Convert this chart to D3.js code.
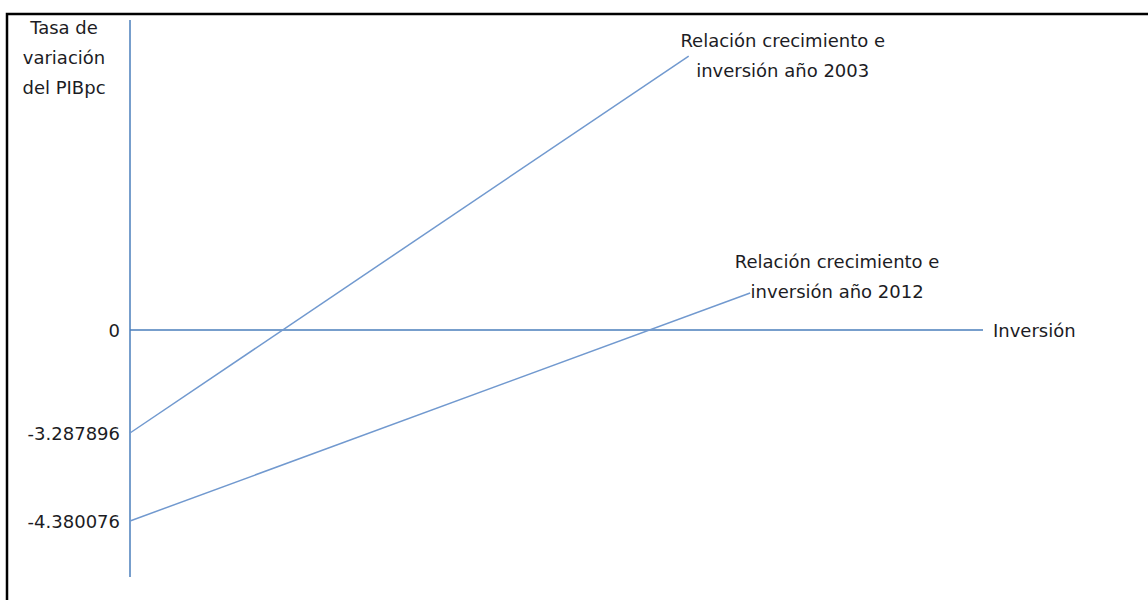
<!DOCTYPE html>
<html>
<head>
<meta charset="utf-8">
<script src="https://cdn.jsdelivr.net/npm/d3@7"></script>
<style>
  body { margin: 0; background: #fff; }
  svg text { font-family: "DejaVu Sans", Verdana, sans-serif; fill: #1c1c24; }
</style>
</head>
<body>
<svg id="chart" width="1148" height="600"></svg>
<script>
// values (x in arbitrary investment units)
const yTickValues = [0, -3.287896, -4.380076]
const yTickLabels = ["0", "-3.287896", "-4.380076"]
const yTitle = ["Tasa de", "variación", "del PIBpc"]
const xTitle = "Inversión"
const seriesNames = [
    ["Relación crecimiento e", "inversión año 2003"],
    ["Relación crecimiento e", "inversión año 2012"]
]
const seriesStart = [[0, -3.287896], [0, -4.380076]]
const seriesEnd = [[6.55, 8.75], [7.27, 1.18]]

const AXIS_X = 130
const AXIS_TOP = 20
const AXIS_BOTTOM = 577
const AXIS_RIGHT = 983
const AXIS_COLOR = "#4a7ebb"
const LINE_COLOR = "#7199cf"
const FONT_SIZE = "18px"

const svg = d3.select("#chart")

// frame
svg.append("rect")
    .attr("x", 7)
    .attr("y", 14)
    .attr("width", 1200)
    .attr("height", 700)
    .style("fill", "none")
    .style("stroke", "#000")
    .style("stroke-width", 2.5)

const xScale = d3.scaleLinear()
    .domain([0, 10])
    .range([AXIS_X, AXIS_RIGHT])

// the sketch is not to scale: use a piecewise scale through the labelled points
const yScale = d3.scaleLinear()
    .domain([-6.176, -4.380076, -3.287896, 0, 9.9])
    .range([AXIS_BOTTOM, 521, 433, 330, AXIS_TOP])

// y axis line
svg.append("line")
    .attr("x1", AXIS_X).attr("x2", AXIS_X)
    .attr("y1", AXIS_TOP).attr("y2", AXIS_BOTTOM)
    .style("stroke", AXIS_COLOR)
    .style("stroke-width", 1.5)

// x axis line at zero
svg.append("line")
    .attr("x1", xScale(0)).attr("x2", xScale(10))
    .attr("y1", yScale(0)).attr("y2", yScale(0))
    .style("stroke", AXIS_COLOR)
    .style("stroke-width", 1.5)

// y tick labels
svg.selectAll(".ylab")
    .data(yTickValues)
    .enter()
    .append("text")
    .attr("class", "ylab")
    .attr("x", AXIS_X - 10)
    .attr("y", d => yScale(d))
    .attr("dy", "0.4em")
    .attr("text-anchor", "end")
    .style("font-size", FONT_SIZE)
    .text((d, i) => yTickLabels[i])

// y title
svg.append("text")
    .attr("x", 64)
    .attr("y", 34)
    .attr("text-anchor", "middle")
    .style("font-size", FONT_SIZE)
    .selectAll("tspan")
    .data(yTitle)
    .enter()
    .append("tspan")
    .attr("x", 64)
    .attr("dy", (d, i) => i === 0 ? 0 : 30)
    .text(d => d)

// x title
svg.append("text")
    .attr("x", AXIS_RIGHT + 10)
    .attr("y", yScale(0))
    .attr("dy", "0.38em")
    .style("font-size", FONT_SIZE)
    .text(xTitle)

// relation lines
const LABEL_POS = [{dx: 94, dy: -9}, {dx: 87, dy: -25}]

seriesStart.forEach(function (s, i) {
    const e = seriesEnd[i]
    svg.append("line")
        .attr("x1", xScale(s[0])).attr("y1", yScale(s[1]))
        .attr("x2", xScale(e[0])).attr("y2", yScale(e[1]))
        .style("stroke", LINE_COLOR)
        .style("stroke-width", 1.5)

    const cx = xScale(e[0]) + LABEL_POS[i].dx
    svg.append("text")
        .attr("x", cx)
        .attr("y", yScale(e[1]) + LABEL_POS[i].dy)
        .attr("text-anchor", "middle")
        .style("font-size", FONT_SIZE)
        .selectAll("tspan")
        .data(seriesNames[i])
        .enter()
        .append("tspan")
        .attr("x", cx)
        .attr("dy", (d, j) => j === 0 ? 0 : 30)
        .text(d => d)
})
</script>
</body>
</html>
